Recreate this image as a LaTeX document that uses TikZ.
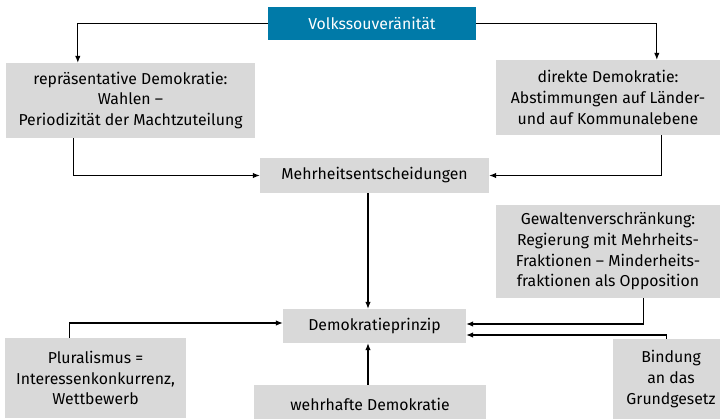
\documentclass[tikz,border=0pt]{standalone}
\usepackage{fontspec}
\setmainfont{Fira Sans}
\usetikzlibrary{arrows.meta}
\definecolor{boxgray}{RGB}{217,217,217}
\definecolor{volkblue}{RGB}{0,122,168}
\begin{document}
\begin{tikzpicture}[x=1pt,y=-1pt,
  gbox/.style={fill=boxgray,inner sep=0pt,align=center,font=\fontsize{15.8}{20.6}\selectfont},
  arr/.style={-{Latex[length=7pt,width=5.5pt]},line width=1.1pt}]
\clip (0,0) rectangle (720,418);
\fill[white] (0,0) rectangle (720,418);
\node[gbox,fill=volkblue,text=white,minimum width=208pt,minimum height=33pt] (volk) at (372,23.5) {Volkssouveränität};
\node[gbox,minimum width=249pt,minimum height=75pt] (rep) at (130.5,100.5) {repräsentative Demokratie:\\Wahlen –\\Periodizität der Machtzuteilung};
\node[gbox,minimum width=224pt,minimum height=75pt] (dir) at (608,97.5) {direkte Demokratie:\\Abstimmungen auf Länder-\\und auf Kommunalebene};
\node[gbox,minimum width=229pt,minimum height=35pt] (mehr) at (374.5,175.5) {Mehrheitsentscheidungen};
\node[gbox,minimum width=224pt,minimum height=93pt] (gew) at (608,251.5) {Gewaltenverschränkung:\\Regierung mit Mehrheits-\\Fraktionen – Minderheits-\\fraktionen als Opposition};
\node[gbox,minimum width=183pt,minimum height=34pt] (dp) at (374.5,326) {Demokratieprinzip};
\node[gbox,minimum width=181pt,minimum height=80pt] (plu) at (95.5,378) {Pluralismus =\\Interessenkonkurrenz,\\Wettbewerb};
\node[gbox,minimum width=232pt,minimum height=38pt] (wehr) at (370,404) {wehrhafte Demokratie};
\node[gbox,minimum width=116pt,minimum height=80pt] (bind) at (671,379) {Bindung\\an das\\Grundgesetz};
\coordinate (vx) at (368,0);
\draw[arr] (volk.west) -| ([xshift=72pt]rep.north west);
\draw[arr] (volk.east) -| ([xshift=161pt]dir.north west);
\draw[arr] ([xshift=68pt]rep.south west) |- (mehr.west);
\draw[arr] ([xshift=166pt]dir.south west) |- (mehr.east);
\draw[arr] (mehr.south -| vx) -- (dp.north -| vx);
\draw[arr] ([xshift=148pt]gew.south west) |- ([yshift=2pt]dp.east);
\draw[arr] ([xshift=54pt]bind.north west) |- ([yshift=-9pt]dp.east);
\draw[arr] ([xshift=65pt]plu.north west) |- ([yshift=3pt]dp.west);
\draw[arr] (wehr.north -| vx) -- (dp.south -| vx);
\end{tikzpicture}
\end{document}
